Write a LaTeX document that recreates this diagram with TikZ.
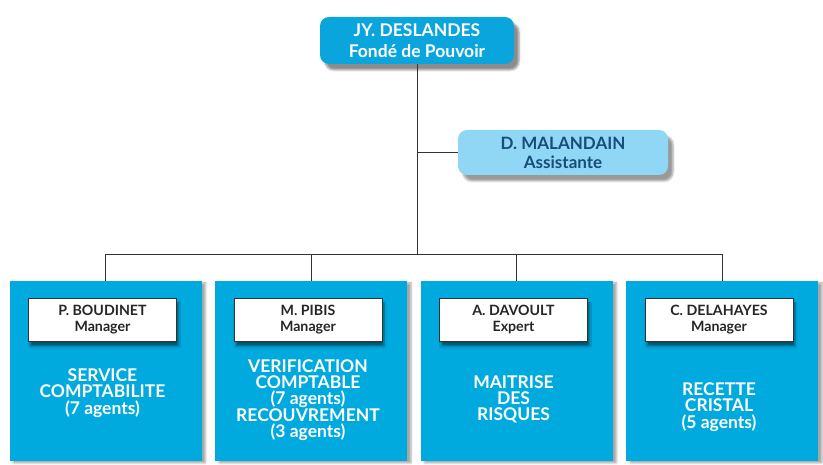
\documentclass[tikz,border=0pt]{standalone}
\usepackage{fontspec}
\setmainfont{Lato}
\usetikzlibrary{shadows.blur}
\definecolor{bossblue}{HTML}{0BA5DD}
\definecolor{unitblue}{HTML}{00A9DE}
\definecolor{lightblue}{HTML}{8FD7F5}
\definecolor{navytext}{HTML}{184C7A}
\definecolor{linegray}{HTML}{333333}
\tikzstyle{boss} = [rectangle, rounded corners=9pt, minimum width=194pt, minimum height=47pt, align=center, fill=bossblue, text=white, font=\bfseries\fontsize{17.5}{21}\selectfont, blur shadow={shadow xshift=5pt, shadow yshift=-6pt, shadow opacity=45}]
\tikzstyle{assist} = [rectangle, rounded corners=9pt, minimum width=210pt, minimum height=45pt, align=center, fill=lightblue, text=navytext, font=\bfseries\fontsize{17}{19}\selectfont, blur shadow={shadow xshift=5pt, shadow yshift=-6pt, shadow opacity=40}]
\tikzstyle{unit} = [rectangle, minimum width=192pt, minimum height=180pt, fill=unitblue, blur shadow={shadow xshift=4pt, shadow yshift=-2pt, shadow opacity=35}]
\tikzstyle{chief} = [rectangle, minimum width=148pt, minimum height=43pt, align=center, draw=linegray, line width=0.9pt, fill=white, text=black!85, font=\bfseries\fontsize{14.2}{16}\selectfont, blur shadow={shadow xshift=2pt, shadow yshift=-5pt, shadow opacity=50}]
\tikzstyle{unittext} = [align=center, text=white, font=\bfseries\fontsize{17.5}{16.3}\selectfont]
\tikzstyle{link} = [draw=linegray, line width=1pt]

\begin{document}
\begin{tikzpicture}[x=1pt, y=1pt, node distance=112pt]
\useasboundingbox (0,0) rectangle (823,464);

% Nodes
\node (boss) [boss] at (417,423.5) {JY. DESLANDES\\Fondé de Pouvoir};
\node (assist) [assist, below of=boss, xshift=146pt] {D. MALANDAIN\\Assistante};
\node (box2) [unit, below of=assist, xshift=-252pt, yshift=-106.5pt] {};
\node (box1) [unit, left of=box2, xshift=-93.5pt] {};
\node (box3) [unit, right of=box2, xshift=93.5pt] {};
\node (box4) [unit, right of=box3, xshift=93.5pt] {};
\node (chief1) [chief, above of=box1, yshift=-60.5pt, xshift=-3pt] {P. BOUDINET\\Manager};
\node (chief2) [chief, above of=box2, yshift=-60.5pt, xshift=-3pt] {M. PIBIS\\Manager};
\node (chief3) [chief, above of=box3, yshift=-60.5pt, xshift=-3pt] {A. DAVOULT\\Expert};
\node (chief4) [chief, above of=box4, yshift=-60.5pt, xshift=-3pt] {C. DELAHAYES\\Manager};
\node (text1) [unittext, below of=chief1, yshift=38.5pt] {SERVICE\\COMPTABILITE\\(7 agents)};
\node (text2) [unittext, below of=chief2, yshift=31.5pt] {VERIFICATION\\COMPTABLE\\(7 agents)\\RECOUVREMENT\\(3 agents)};
\node (text3) [unittext, below of=chief3, yshift=32pt] {MAITRISE\\DES\\RISQUES};
\node (text4) [unittext, below of=chief4, yshift=24.5pt] {RECETTE\\CRISTAL\\(5 agents)};
\coordinate (bus) at (417,209);

% Links
\draw [link] (boss) -- (bus);
\draw [link] (assist) -| (boss);
\draw [link] (box1) |- (bus);
\draw [link] (box2) |- (bus);
\draw [link] (box3) |- (bus);
\draw [link] (box4) |- (bus);

\end{tikzpicture}
\end{document}
